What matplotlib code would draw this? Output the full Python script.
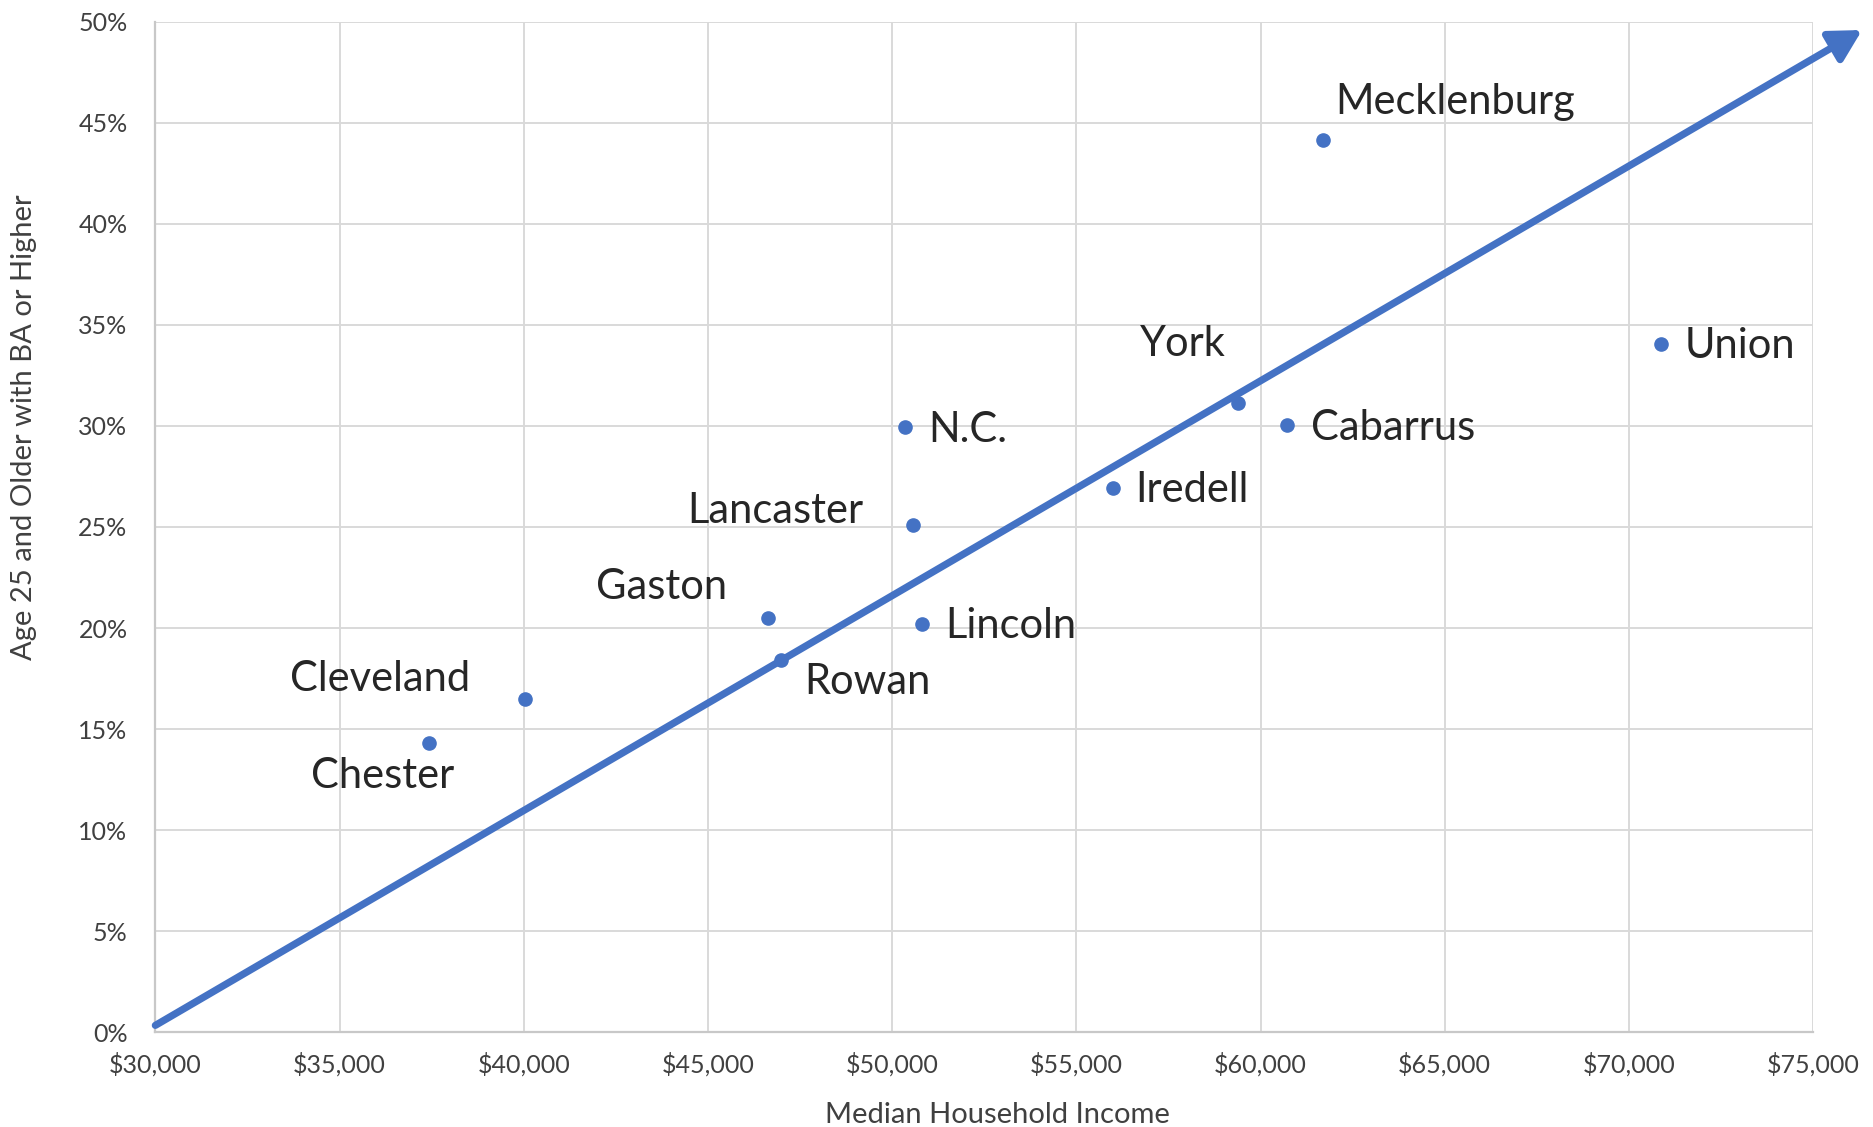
import matplotlib
matplotlib.use("Agg")
import matplotlib.pyplot as plt
from matplotlib.ticker import FuncFormatter

plt.rcParams['font.family'] = ['Lato', 'DejaVu Sans']

# ---- data ----
counties = ["Mecklenburg", "Union", "York", "Cabarrus", "N.C.", "Iredell",
            "Lancaster", "Gaston", "Lincoln", "Rowan", "Cleveland", "Chester"]
income = [61700, 70880, 59390, 60720, 50340, 55990,
          50570, 46640, 50800, 46970, 40030, 37430]
ba_pct = [44.15, 34.04, 31.15, 30.02, 29.96, 26.95,
          25.12, 20.51, 20.21, 18.44, 16.49, 14.30]
# label offsets (points) and alignment
label_dx = [8.6, 17, -8.6, 17, 17, 16.3, -36, -30, 17, 17, -39.5, -33.5]
label_dy = [27.4, -1.5, 42, -1.7, -2.6, -1.7, 10, 22.4, -1.7, -16.3, 14.6, -23.2]
label_ha = ["left", "left", "right", "left", "left", "left",
            "right", "right", "left", "left", "right", "center"]

trend_x = [30000, 76330]
trend_y = [0.35, 49.58]

x_ticks = list(range(30000, 75001, 5000))
y_ticks = list(range(0, 51, 5))

blue = "#4472C4"
grid_c = "#D9D9D9"
txt_c = "#262626"
tick_c = "#404040"

fig = plt.figure(figsize=(18.74, 11.27), dpi=100)
ax = fig.add_axes([0.0829, 0.0839, 0.9675 - 0.0829, 0.9809 - 0.0839])

ax.set_xlim(30000, 75000)
ax.set_ylim(0, 50)
ax.set_xticks(x_ticks)
ax.set_yticks(y_ticks)
ax.xaxis.set_major_formatter(FuncFormatter(lambda v, p: f"${v:,.0f}"))
ax.yaxis.set_major_formatter(FuncFormatter(lambda v, p: f"{v:.0f}%"))
ax.grid(True, color=grid_c, linewidth=1.4)
ax.set_axisbelow(True)
for s in ["top", "right"]:
    ax.spines[s].set_visible(False)
for s in ["left", "bottom"]:
    ax.spines[s].set_color("#C8C8C8")
    ax.spines[s].set_linewidth(1.6)
ax.tick_params(axis="both", length=0, labelsize=18, colors=tick_c)
ax.tick_params(axis="y", pad=20)
ax.tick_params(axis="x", pad=14)

ax.set_xlabel("Median Household Income", fontsize=21, color=tick_c)
ax.set_ylabel("Age 25 and Older with BA or Higher", fontsize=21, color=tick_c)
ax.xaxis.set_label_coords(0.508, -0.0816)
ax.yaxis.set_label_coords(-0.0793, 0.599)
ax.xaxis.label.set_va("center")
ax.yaxis.label.set_va("center")

# trend arrow
ax.annotate("", xy=(trend_x[1], trend_y[1]), xytext=(trend_x[0], trend_y[0]),
            arrowprops=dict(arrowstyle="-|>,head_length=1.0,head_width=0.55",
                            lw=5.2, color=blue, mutation_scale=19,
                            shrinkA=0, shrinkB=0),
            annotation_clip=False, zorder=3)

ax.plot(income, ba_pct, "o", color=blue, markersize=9.5, zorder=4, clip_on=False)

for name, x, y, dx, dy, ha in zip(counties, income, ba_pct, label_dx, label_dy, label_ha):
    ax.annotate(name, (x, y), xytext=(dx, dy), textcoords="offset points",
                ha=ha, va="center", fontsize=30, color=txt_c, zorder=5)

fig.savefig("out.png", dpi=100, facecolor="white")
